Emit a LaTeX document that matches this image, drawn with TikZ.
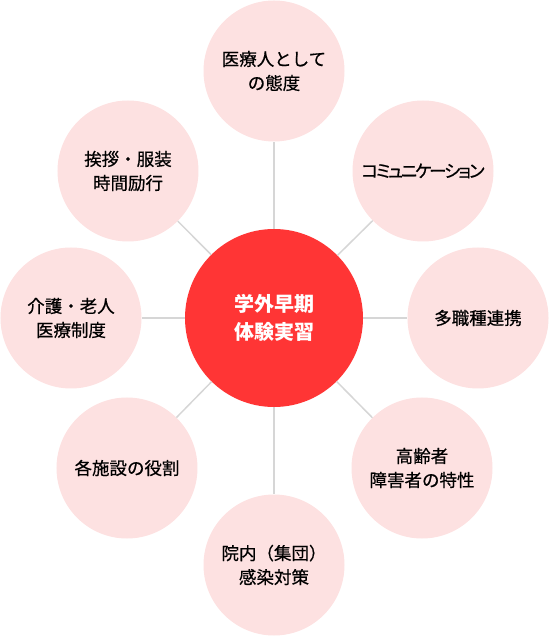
\documentclass[tikz,border=0pt]{standalone}
\usepackage{fontspec}
\newfontfamily\jpfont{Noto Sans CJK JP}
\newfontfamily\jpmed[FakeBold=0.6]{Noto Sans CJK JP}
\newfontfamily\jppalt[RawFeature=+palt,FakeBold=0.6,LetterSpace=-12]{Noto Sans CJK JP}
\definecolor{hubred}{RGB}{255,53,53}
\definecolor{topicpink}{RGB}{253,225,225}
\definecolor{spokegray}{RGB}{214,214,214}
\begin{document}
\begin{tikzpicture}[
hub/.style={circle, fill=hubred, text=white, minimum size=178pt, inner sep=0pt, align=center, font=\jpfont\bfseries\fontsize{20}{28}\selectfont},
topic/.style={circle, fill=topicpink, minimum size=141pt, inner sep=0pt, align=center, font=\jpmed\fontsize{17.5}{24}\selectfont},
spoke/.style={draw=spokegray, line width=1.5pt}
]
\useasboundingbox (-274pt,-318pt) rectangle (275pt,318pt);

\node[hub] (hub) at (0,0) {学外早期\\体験実習};

\node[topic] (attitude) at (0pt,247pt) {医療人として\\の態度};
\node[topic] (comm) at (149pt,147pt) {\jppalt コミュニケーション};
\node[topic] (team) at (204pt,0pt) {多職種連携};
\node[topic] (elderly) at (148pt,-150pt) {高齢者\\障害者の特性};
\node[topic] (infection) at (0pt,-247pt) {院内（集団）\\感染対策};
\node[topic] (facility) at (-147pt,-150pt) {各施設の役割};
\node[topic] (care) at (-203pt,0pt) {介護・老人\\医療制度};
\node[topic] (manner) at (-146pt,147pt) {挨拶・服装\\時間励行};

\foreach \t in {attitude,comm,team,elderly,infection,facility,care,manner}
    \draw[spoke] (hub) -- (\t);

\end{tikzpicture}
\end{document}
